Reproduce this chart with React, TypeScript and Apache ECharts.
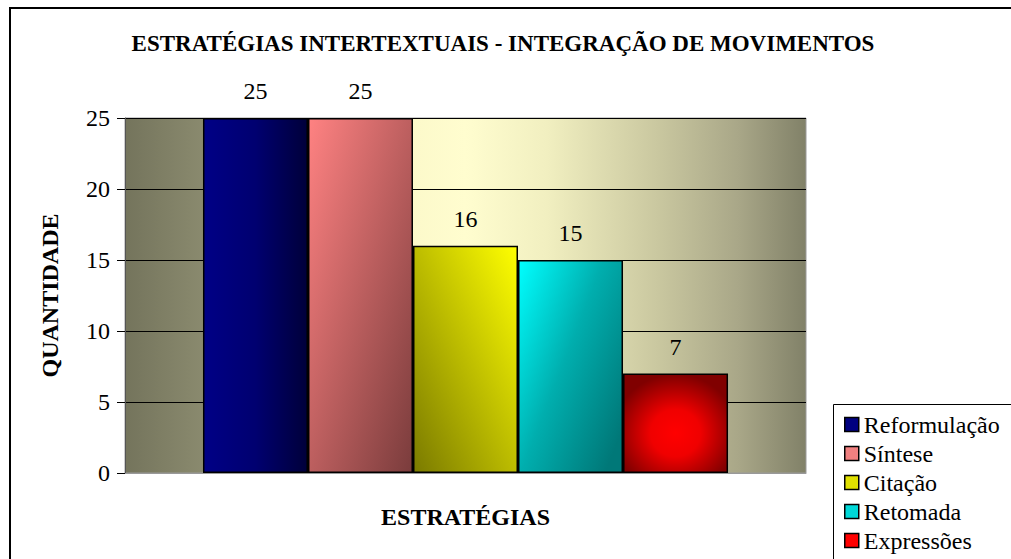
import React, { useEffect, useRef } from "react";
import * as echarts from "echarts";

const categories = ["Estratégias"];
const seriesNames = ["Reformulação", "Síntese", "Citação", "Retomada", "Expressões"];
const seriesValues = [25, 25, 16, 15, 7];
const yTicks = { min: 0, max: 25, interval: 5 };

const FONT = "'Liberation Serif', 'Times New Roman', Times, serif";

const barFills: any[] = [
  { type: "linear", x: 0, y: 0, x2: 1, y2: 0, colorStops: [{ offset: 0, color: "#000086" }, { offset: 0.5, color: "#000070" }, { offset: 1, color: "#00003a" }] },
  { type: "linear", x: 0, y: 0, x2: 1, y2: 1, colorStops: [{ offset: 0, color: "#ff8282" }, { offset: 1, color: "#7a3c3c" }] },
  { type: "linear", x: 0, y: 1, x2: 1, y2: 0, colorStops: [{ offset: 0, color: "#7a7a00" }, { offset: 1, color: "#ffff00" }] },
  { type: "linear", x: 0, y: 0, x2: 1, y2: 0.8, colorStops: [{ offset: 0, color: "#00ffff" }, { offset: 0.5, color: "#00aeae" }, { offset: 1, color: "#007878" }] },
  { type: "radial", x: 0.5, y: 0.6, r: 0.6, colorStops: [{ offset: 0, color: "#ff0000" }, { offset: 0.4, color: "#f00000" }, { offset: 1, color: "#800000" }] },
];
const legendColors = ["#000080", "#f08080", "#e0e000", "#00d8d8", "#ff0000"];

export default function App() {
  const ref = useRef<HTMLDivElement>(null);
  useEffect(() => {
    document.body.style.margin = "0";
    const chart = echarts.init(ref.current!, null, { renderer: "svg" });
    chart.setOption({
      animation: false,
      backgroundColor: "#ffffff",
      textStyle: { fontFamily: FONT },
      title: {
        text: "ESTRATÉGIAS INTERTEXTUAIS - INTEGRAÇÃO DE MOVIMENTOS",
        left: 498,
        top: 27,
        textAlign: "center",
        textStyle: { fontFamily: FONT, fontWeight: "bold", fontSize: 23, color: "#000" },
      },
      graphic: [
        { type: "rect", z: -10, shape: { x: 10, y: 8, width: 1100, height: 700 }, style: { fill: "none", stroke: "#000", lineWidth: 2 } },
        { type: "rect", z: 1, shape: { x: 833.5, y: 404.5, width: 300, height: 300 }, style: { fill: "#ffffff", stroke: "#000", lineWidth: 1 } },
      ],
      legend: {
        orient: "vertical",
        left: 834,
        top: 405,
        height: 300,
        padding: [5, 0, 10, 10],
        itemGap: 0,
        itemWidth: 14,
        itemHeight: 14,
        z: 5,
        formatter: "{n|{name}}",
        textStyle: {
          fontFamily: FONT, fontSize: 24, color: "#000", lineHeight: 29,
          rich: { n: { fontFamily: FONT, fontSize: 24, fontWeight: 400, color: "#000", lineHeight: 29 } },
        },
        data: seriesNames.map((n, i) => ({
          name: n,
          icon: "rect",
          itemStyle: { color: legendColors[i], borderColor: "#000", borderWidth: 1.5 },
        })),
      },
      grid: {
        left: 125,
        top: 118,
        width: 681,
        height: 355,
        show: true,
        borderColor: "#9a9a9a",
        borderWidth: 1,
        backgroundColor: {
          type: "linear", x: 0, y: 0, x2: 1, y2: 0,
          colorStops: [
            { offset: 0, color: "#74745c" },
            { offset: 0.12, color: "#8b8b6f" },
            { offset: 0.3, color: "#dcdab0" },
            { offset: 0.42, color: "#fcf9ca" },
            { offset: 0.5, color: "#fffdcf" },
            { offset: 0.62, color: "#f1efc0" },
            { offset: 0.78, color: "#cac8a0" },
            { offset: 0.9, color: "#a9a788" },
            { offset: 1, color: "#818168" },
          ],
        },
      },
      xAxis: {
        type: "category",
        data: categories,
        name: "ESTRATÉGIAS",
        nameLocation: "middle",
        nameGap: 32,
        nameTextStyle: { fontFamily: FONT, fontWeight: "bold", fontSize: 24, color: "#000" },
        axisLine: { show: true, lineStyle: { color: "#999", width: 1 } },
        axisTick: { show: false },
        axisLabel: { show: false },
      },
      yAxis: {
        type: "value",
        min: yTicks.min,
        max: yTicks.max,
        interval: yTicks.interval,
        name: "QUANTIDADE",
        nameLocation: "middle",
        nameRotate: 90,
        nameGap: 63,
        nameTextStyle: { fontFamily: FONT, fontWeight: "bold", fontSize: 24, color: "#000" },
        axisLine: { show: true, lineStyle: { color: "#555", width: 1 } },
        axisTick: { show: true, inside: false, length: 8, lineStyle: { color: "#000" } },
        axisLabel: { fontFamily: FONT, fontStyle: "normal", fontWeight: 400, fontSize: 24, color: "#000", margin: 15 },
        splitLine: { show: true, lineStyle: { color: "#000", width: 1 } },
      },
      series: seriesNames.map((n, i) => ({
        name: n,
        type: "bar",
        data: [seriesValues[i]],
        barGap: "0%",
        barCategoryGap: "22.9%",
        itemStyle: { color: barFills[i], borderColor: "#000", borderWidth: 1.5 },
        label: {
          show: true, position: "top", distance: 15,
          formatter: "{v|{c}}",
          rich: { v: { fontFamily: FONT, fontWeight: 400, fontSize: 24, color: "#000" } },
        },
      })),
    });
    return () => chart.dispose();
  }, []);
  return <div ref={ref} style={{ width: 1011, height: 559 }} />;
}
